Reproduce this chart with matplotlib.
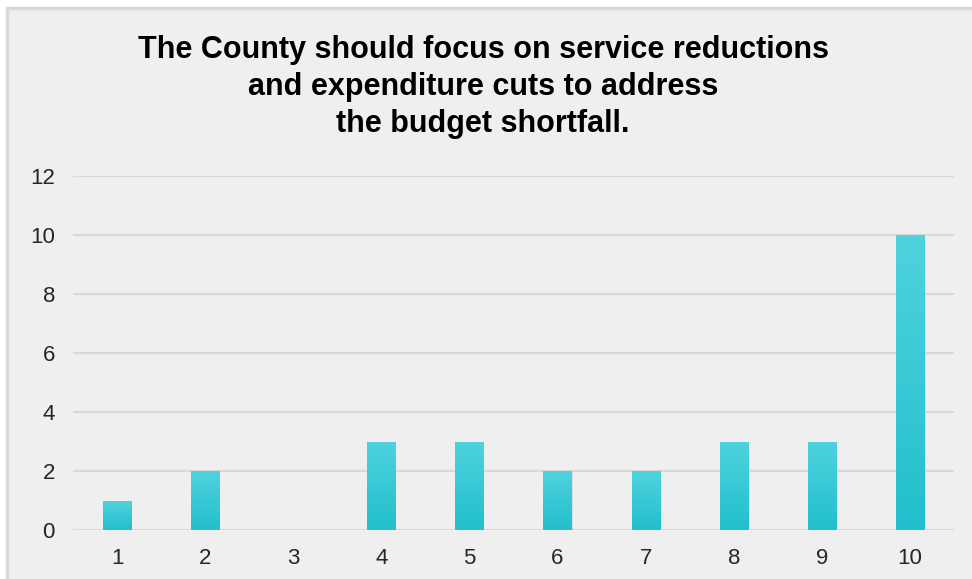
import matplotlib.pyplot as plt
import numpy as np
from matplotlib.patches import Rectangle
from matplotlib.colors import LinearSegmentedColormap

# Survey responses on a 1-10 scale
ratings = [1, 2, 3, 4, 5, 6, 7, 8, 9, 10]
counts = [1, 2, 0, 3, 3, 2, 2, 3, 3, 10]
y_ticks = [0, 2, 4, 6, 8, 10, 12]

title = ("The County should focus on service reductions\n"
         "and expenditure cuts to address\n"
         "the budget shortfall.")

plt.rcParams['font.family'] = ['Liberation Sans', 'DejaVu Sans']

fig = plt.figure(figsize=(9.72, 5.79), dpi=100)
fig.patch.set_facecolor('white')

# grey panel behind the chart
panel = Rectangle((7 / 972, -0.05), 1.1, 1 - 8 / 579 + 0.05,
                  transform=fig.transFigure, facecolor='#efefef',
                  edgecolor='#d9d9d9', linewidth=2.5, zorder=-1)
fig.patches.append(panel)

ax = fig.add_axes([73 / 972, 1 - 530 / 579, (954 - 73) / 972, (530 - 176) / 579])
ax.set_facecolor('none')

bars = ax.bar(ratings, counts, width=0.32, color='#33c9d6', zorder=3)

# vertical gradient fill on each bar
grad = np.linspace(0, 1, 256).reshape(-1, 1)
cmap = LinearSegmentedColormap.from_list('bar', ['#22bfcc', '#4fd3de'])
for b in bars:
    if b.get_height() <= 0:
        continue
    x0, y0 = b.get_x(), b.get_y()
    im = ax.imshow(grad, extent=[x0, x0 + b.get_width(), y0, y0 + b.get_height()],
                   origin='lower', cmap=cmap, aspect='auto', zorder=4)
    im.set_clip_path(b)
    # soft shadow
    ax.add_patch(Rectangle((x0 + 0.01, y0 - 0.06), b.get_width(), b.get_height(),
                           facecolor='#000000', alpha=0.08, linewidth=0, zorder=2))

ax.set_xlim(0.5, 10.5)
ax.set_ylim(0, 12)
ax.set_xticks(ratings)
ax.set_yticks(y_ticks)
ax.tick_params(length=0, labelsize=16, colors='#262626')
ax.tick_params(axis='x', pad=13)
ax.tick_params(axis='y', pad=13)
for s in ax.spines.values():
    s.set_visible(False)
ax.grid(axis='y', color='#d9d9d9', linewidth=1.6, zorder=1)
ax.set_axisbelow(True)

fig.text(483 / 972, 1 - 87 / 579, title, ha='center', va='center',
         fontsize=22, fontweight='bold', color='black', linespacing=1.3)

fig.savefig('out.png', dpi=100, facecolor=fig.get_facecolor())
